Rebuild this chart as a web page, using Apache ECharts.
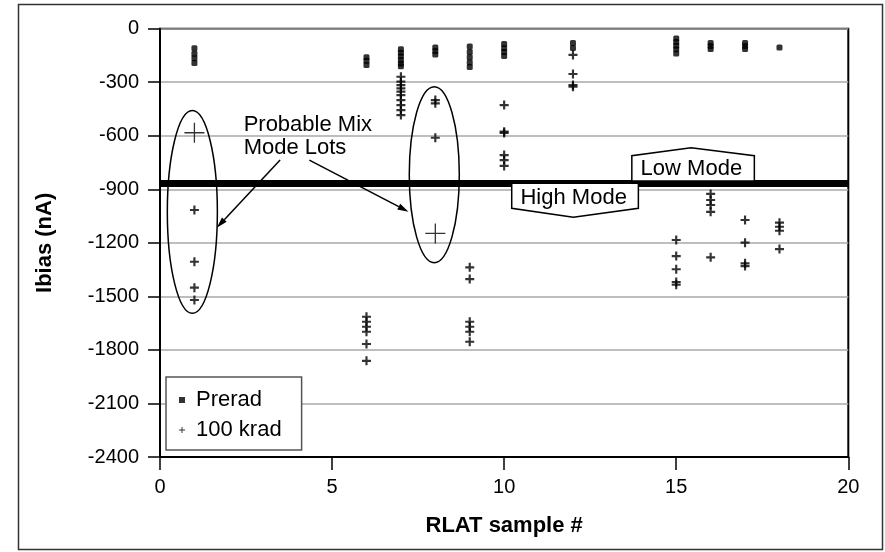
<!DOCTYPE html>
<html><head><meta charset="utf-8">
<script src="https://cdn.jsdelivr.net/npm/echarts@6/dist/echarts.min.js"></script>
<style>html,body{margin:0;padding:0;background:#fff}#c{width:885px;height:552px}</style>
</head><body><div id="c"></div>
<script>
// ---- data ----
const samples = [1, 6, 7, 8, 9, 10, 12, 15, 16, 17, 18];
const preradValues = [
  [-110, -140, -165, -192],
  [-160, -180, -203],
  [-115, -135, -155, -175, -195, -210],
  [-105, -125, -145],
  [-100, -130, -160, -190, -215],
  [-86, -110, -130, -153],
  [-80, -108],
  [-55, -75, -95, -115, -139],
  [-80, -97, -114],
  [-80, -97, -114],
  [-105]
];
const krad100Values = [
  [-1016, -1306, -1451, -1520],
  [-1614, -1642, -1670, -1698, -1767, -1861],
  [-269, -297, -316, -334, -353, -372, -400, -428, -456, -484],
  [-400, -418, -611],
  [-1337, -1403, -1642, -1670, -1698, -1754],
  [-428, -577, -584, -708, -736, -769],
  [-147, -254, -316, -325],
  [-1184, -1274, -1348, -1420, -1435],
  [-926, -960, -988, -1026, -1281],
  [-1072, -1199, -1315, -1330],
  [-1087, -1110, -1132, -1235]
];
const mixModeSamples = [1, 8];
const mixModeValues = [-583, -1147];
const modeThreshold = -866;
const legendNames = ['Prerad', '100 krad'];

// ---- build ----
const FONT = '"Liberation Sans", Arial, sans-serif';
const preradData = [], kradData = [], mixData = [];
samples.forEach((s, i) => {
  preradValues[i].forEach(v => preradData.push([s, v]));
  krad100Values[i].forEach(v => kradData.push([s, v]));
});
mixModeSamples.forEach((s, i) => mixData.push([s, mixModeValues[i]]));

const plusPath = 'path://M0,3.8H10V6.2H0Z M3.8,0H6.2V10H3.8Z';
const legendPlusPath = 'path://M0,4.2H10V5.8H0Z M4.2,0H5.8V10H4.2Z';
const bigPlusPath = 'path://M0,9.35H20V10.65H0Z M9.35,0H10.65V20H9.35Z';

const chart = echarts.init(document.getElementById('c'), null, {renderer: 'canvas'});
const axisCommon = {
  axisLine: {show: true, onZero: false, lineStyle: {color: '#000', width: 2}},
  axisTick: {show: true, inside: false, lineStyle: {color: '#000', width: 1.5}},
  axisLabel: {color: '#000', fontSize: 20, fontFamily: FONT, formatter: v => String(v)},
  nameTextStyle: {color: '#000', fontSize: 22, fontWeight: 'bold', fontFamily: FONT}
};
const option = {
  animation: false,
  backgroundColor: '#fff',
  textStyle: {fontFamily: FONT},
  grid: {left: 160, top: 28.7, right: 36.7, bottom: 95, containLabel: false,
         show: true, borderColor: '#000', borderWidth: 2},
  xAxis: Object.assign({}, axisCommon, {
    type: 'value', min: 0, max: 20, interval: 5,
    name: 'RLAT sample #', nameLocation: 'middle', nameGap: 58,
    splitLine: {show: false},
    axisTick: Object.assign({}, axisCommon.axisTick, {length: 13}),
    axisLabel: Object.assign({}, axisCommon.axisLabel, {margin: 20})
  }),
  yAxis: Object.assign({}, axisCommon, {
    type: 'value', min: -2400, max: 0, interval: 300,
    name: 'Ibias (nA)', nameLocation: 'middle', nameGap: 104,
    splitLine: {show: true, lineStyle: {color: '#a8a8a8', width: 1.5}},
    axisTick: Object.assign({}, axisCommon.axisTick, {length: 12}),
    axisLabel: Object.assign({}, axisCommon.axisLabel, {margin: 21})
  }),
  legend: {
    orient: 'vertical', left: 166, top: 377,
    padding: [11, 20, 8, 13],
    itemWidth: 6, itemHeight: 6, itemGap: 6,
    borderColor: '#555', borderWidth: 1.5, backgroundColor: '#fff',
    selectedMode: false,
    textStyle: {color: '#000', fontSize: 22, lineHeight: 24, fontFamily: FONT, padding: [0, 0, 0, 6]},
    data: [{name: legendNames[0], icon: 'rect'}, {name: legendNames[1], icon: legendPlusPath}]
  },
  series: [
    {name: legendNames[0], type: 'scatter', symbol: 'roundRect', symbolSize: [6, 6],
     itemStyle: {color: '#000'}, data: preradData, silent: true, z: 3,
     markLine: {silent: true, symbol: ['none', 'none'], label: {show: false},
                lineStyle: {color: '#000', width: 7, type: 'solid'},
                emphasis: {disabled: true},
                data: [{yAxis: modeThreshold}]}},
    {name: legendNames[1], type: 'scatter', symbol: plusPath, symbolSize: 9,
     itemStyle: {color: '#000'}, data: kradData, silent: true, z: 3},
    {name: 'mix mode', type: 'scatter', symbol: bigPlusPath, symbolSize: 20,
     itemStyle: {color: '#000'}, data: mixData, silent: true, z: 3}
  ]
};
chart.setOption(option);

// ---- annotations (positioned in data coordinates) ----
const P = (x, y) => chart.convertToPixel({gridIndex: 0}, [x, y]);
const ellipses = [
  {cx: 0.94, cy: -1027, rx: 0.727, ry: 568},
  {cx: 7.97, cy: -818, rx: 0.727, ry: 493}
];
const arrows = [
  {from: [3.49, -736], to: [1.65, -1115]},
  {from: [4.34, -736], to: [7.22, -1026]}
];
const lowBox = [[13.71, -853], [13.71, -712], [15.43, -667], [17.27, -712], [17.27, -853]];
const highBox = [[10.22, -866], [13.90, -866], [13.90, -1006], [12.01, -1057], [10.22, -1006]];
const texts = [
  {t: 'Probable Mix', x: 2.43, y: -542, align: 'left'},
  {t: 'Mode Lots', x: 2.43, y: -670, align: 'left'},
  {t: 'Low Mode', x: 15.44, y: -786, align: 'center'},
  {t: 'High Mode', x: 12.02, y: -946, align: 'center'}
];

const g = [];
ellipses.forEach(e => {
  const c = P(e.cx, e.cy), r1 = P(e.cx + e.rx, e.cy + e.ry);
  g.push({type: 'ellipse', shape: {cx: c[0], cy: c[1], rx: Math.abs(r1[0] - c[0]), ry: Math.abs(r1[1] - c[1])},
          style: {fill: 'none', stroke: '#000', lineWidth: 1.5}, z: 100});
});
arrows.forEach(a => {
  const p1 = P(a.from[0], a.from[1]), p2 = P(a.to[0], a.to[1]);
  const ang = Math.atan2(p2[1] - p1[1], p2[0] - p1[0]);
  const L = 11, W = 3.2, c = Math.cos(ang), s = Math.sin(ang);
  const bx = p2[0] - L * c, by = p2[1] - L * s;
  g.push({type: 'line', shape: {x1: p1[0], y1: p1[1], x2: bx, y2: by}, style: {stroke: '#000', lineWidth: 1.5}, z: 100});
  g.push({type: 'polygon', shape: {points: [[p2[0], p2[1]], [bx - W * s, by + W * c], [bx + W * s, by - W * c]]},
          style: {fill: '#000'}, z: 100});
});
[lowBox, highBox].forEach(b => {
  g.push({type: 'polygon', shape: {points: b.map(p => P(p[0], p[1]))},
          style: {fill: '#fff', stroke: '#000', lineWidth: 1.5}, z: 100});
});
texts.forEach(t => {
  const p = P(t.x, t.y);
  g.push({type: 'text', x: p[0], y: p[1], z: 101,
          style: {text: t.t, fill: '#000', font: '22px ' + FONT, align: t.align, verticalAlign: 'middle'}});
});
// outer figure frame
g.push({type: 'rect', shape: {x: 18.5, y: 4.5, width: 864, height: 545},
        style: {fill: 'none', stroke: '#333', lineWidth: 1.5}, z: 100});
chart.setOption({graphic: g});
</script>
</body></html>
